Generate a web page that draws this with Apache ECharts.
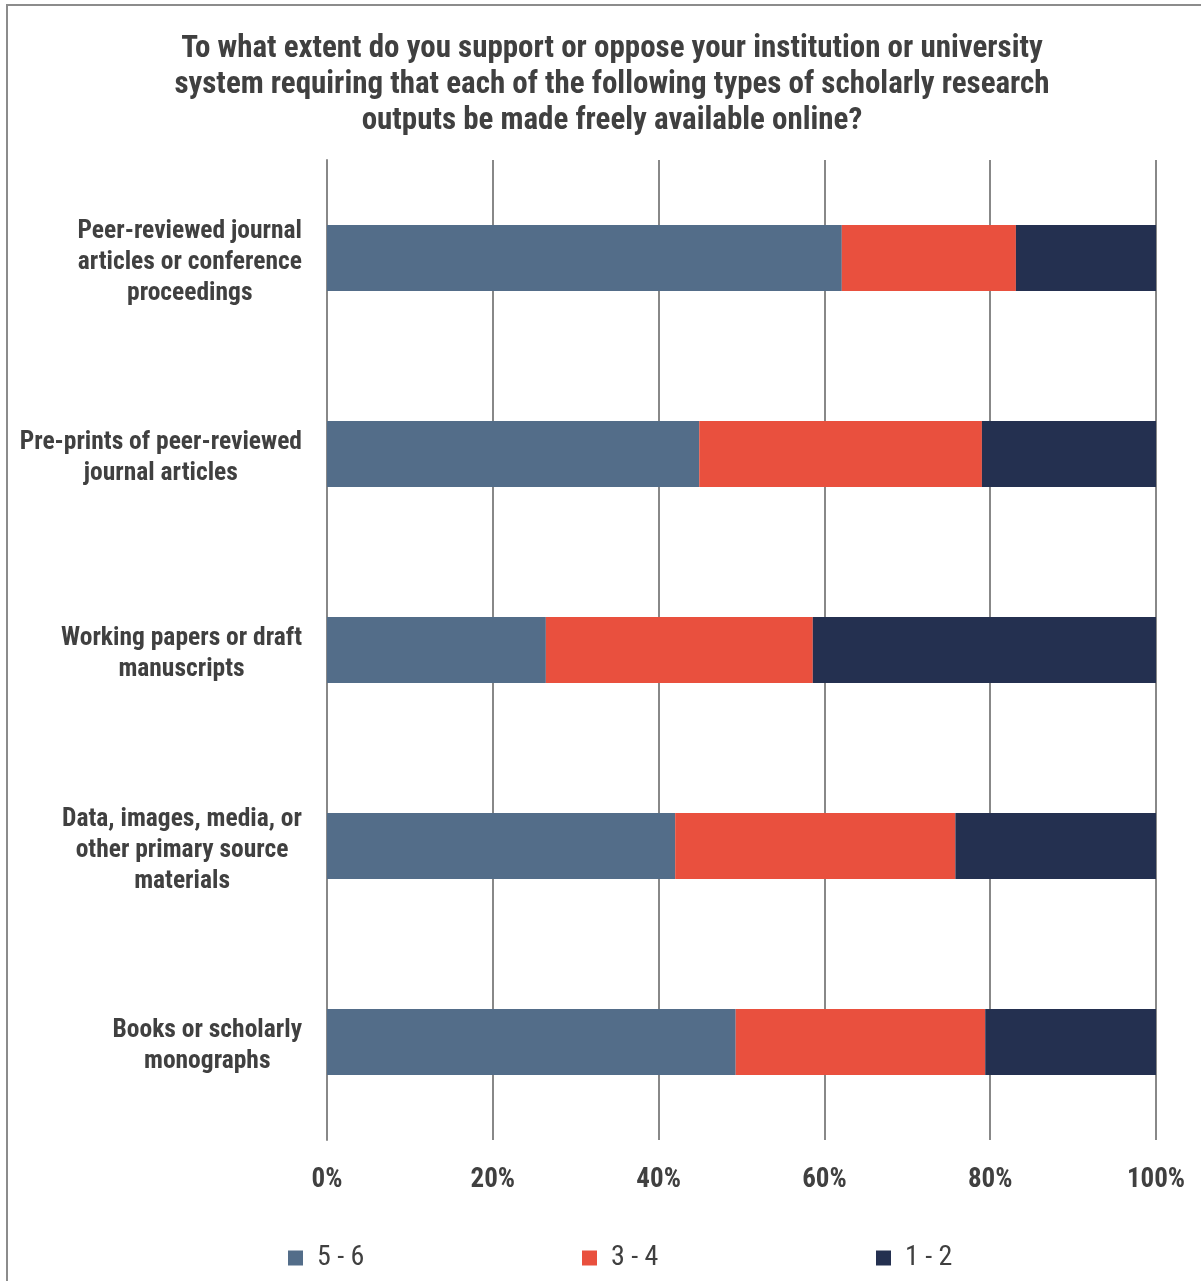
<!DOCTYPE html>
<html><head><meta charset="utf-8">
<script src="https://cdn.jsdelivr.net/npm/echarts@6/dist/echarts.min.js"></script>
<style>html,body{margin:0;padding:0;background:#fff}#c{width:1201px;height:1281px}</style>
</head><body><div id="c"></div>
<script>
const categories = [
  "Peer-reviewed journal\narticles or conference\nproceedings",
  "Pre-prints of peer-reviewed\njournal articles",
  "Working papers or draft\nmanuscripts",
  "Data, images, media, or\nother primary source\nmaterials",
  "Books or scholarly\nmonographs"
];
const seriesNames = ["5 - 6", "3 - 4", "1 - 2"];
const s56 = [62.1, 44.9, 26.4, 42.0, 49.3];
const s34 = [21.0, 34.1, 32.2, 33.8, 30.1];
const s12 = [16.9, 21.0, 41.4, 24.2, 20.6];
const xTicks = [0, 20, 40, 60, 80, 100];
const colors = ["#536D89", "#E9503E", "#243050"];
const titleText = "To what extent do you support or oppose your institution or university\nsystem requiring that each of the following types of scholarly research\noutputs be made freely available online?";

const FONT = '"Roboto Condensed", "Arial Narrow", Roboto, "Liberation Sans", sans-serif';
const chart = echarts.init(document.getElementById('c'), null, {renderer: 'canvas'});
const data = [s56, s34, s12];
const legendX = [283, 577, 871];
chart.setOption({
  backgroundColor: '#fff',
  animation: false,
  title: {
    text: titleText, left: 607, top: 26, textAlign: 'center',
    textStyle: {fontFamily: FONT, fontSize: 31, fontWeight: 'bold', color: '#404040', lineHeight: 36}
  },
  graphic: [{type: 'rect', shape: {x: 7, y: 5, width: 1200, height: 1290},
    style: {fill: 'none', stroke: '#8c8c8c', lineWidth: 2}, silent: true}],
  legend: seriesNames.map((n, i) => ({
    data: [n], left: legendX[i], top: 1239, itemWidth: 15, itemHeight: 15, icon: 'rect', itemGap: 8,
    textStyle: {fontFamily: FONT, fontSize: 28, color: '#404040', padding: [0, 0, 0, 9]}
  })),
  grid: {left: 327, right: 45, top: 160, height: 980},
  xAxis: {
    type: 'value', min: 0, max: 100, interval: 20,
    axisLine: {show: false}, axisTick: {show: false},
    splitLine: {show: true, lineStyle: {color: '#888', width: 2}},
    axisLabel: {formatter: v => xTicks.includes(v) ? v + '%' : '', margin: 27,
      fontFamily: FONT, fontSize: 27, fontWeight: 'bold', color: '#404040'}
  },
  yAxis: {
    type: 'category', data: categories, inverse: true,
    axisLine: {show: true, lineStyle: {color: '#888', width: 2}}, axisTick: {show: false},
    axisLabel: {margin: 25, color: '#404040', padding: [9, 0, 0, 0],
      formatter: v => v.split('\n').map(l => '{a|' + l + '}').join('\n'),
      rich: {a: {align: 'center', fontFamily: FONT, fontSize: 25.5, fontWeight: 'bold', color: '#404040', lineHeight: 31}}
    }
  },
  series: seriesNames.map((n, i) => ({
    name: n, type: 'bar', stack: 'all', data: data[i], barWidth: 66,
    itemStyle: {color: colors[i]}
  }))
});
</script></body></html>
